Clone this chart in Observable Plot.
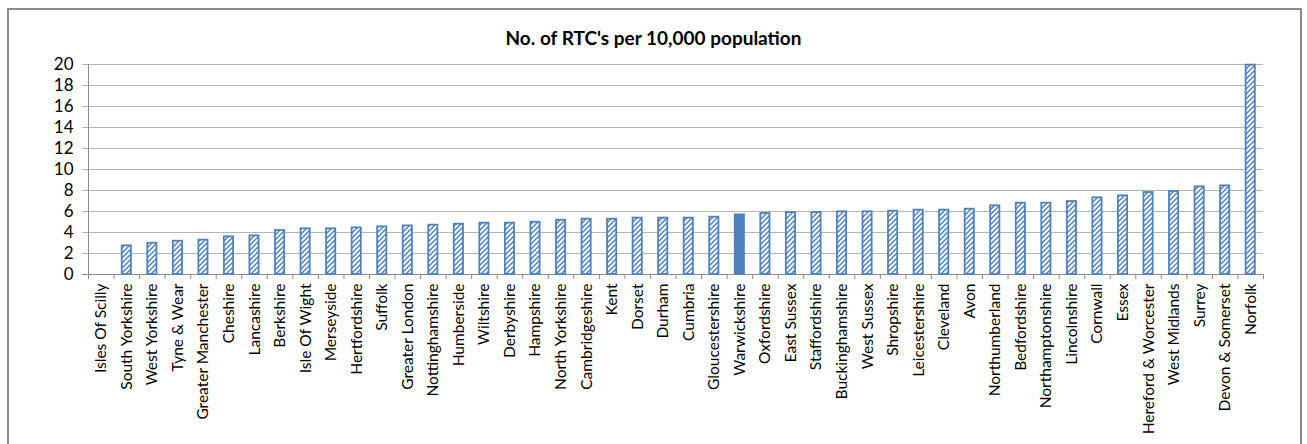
<!DOCTYPE html>
<html>
<head>
<meta charset="utf-8">
<script src="https://cdn.jsdelivr.net/npm/d3@7"></script>
<script src="https://cdn.jsdelivr.net/npm/@observablehq/plot@0.6"></script>
<style>
  html, body { margin: 0; padding: 0; background: #fff; }
  body { width: 1307px; height: 444px; position: relative; overflow: hidden; font-family: Lato, "Open Sans", sans-serif; }
  #frame { position: absolute; left: 7px; top: 8px; width: 1295px; height: 460px; border: 2px solid #8a8a8a; box-sizing: border-box; }
  #title { position: absolute; left: 0; top: 27px; width: 1307px; text-align: center; font-weight: bold; font-size: 19px; line-height: 22px; color: #000; }
  #chart { position: absolute; left: 0; top: 50px; }
</style>
</head>
<body>
<div id="frame"></div>
<div id="title">No. of RTC's per 10,000 population</div>
<div id="chart"></div>
<script>
// Road traffic collisions per 10,000 population, by county (ascending)
const counties = [
  "Isles Of Scilly", "South Yorkshire", "West Yorkshire", "Tyne & Wear", "Greater Manchester",
  "Cheshire", "Lancashire", "Berkshire", "Isle Of Wight", "Merseyside",
  "Hertfordshire", "Suffolk", "Greater London", "Nottinghamshire", "Humberside",
  "Wiltshire", "Derbyshire", "Hampshire", "North Yorkshire", "Cambridgeshire",
  "Kent", "Dorset", "Durham", "Cumbria", "Gloucestershire",
  "Warwickshire", "Oxfordshire", "East Sussex", "Staffordshire", "Buckinghamshire",
  "West Sussex", "Shropshire", "Leicestershire", "Cleveland", "Avon",
  "Northumberland", "Bedfordshire", "Northamptonshire", "Lincolnshire", "Cornwall",
  "Essex", "Hereford & Worcester", "West Midlands", "Surrey", "Devon & Somerset",
  "Norfolk"
];
const rtcPer10k = [
  0, 2.73, 2.98, 3.17, 3.27,
  3.59, 3.68, 4.19, 4.35, 4.35,
  4.44, 4.54, 4.63, 4.70, 4.79,
  4.89, 4.89, 4.98, 5.17, 5.27,
  5.27, 5.37, 5.37, 5.37, 5.46,
  5.68, 5.81, 5.90, 5.90, 5.97,
  5.97, 6.03, 6.13, 6.13, 6.22,
  6.54, 6.79, 6.79, 6.95, 7.30,
  7.49, 7.81, 7.90, 8.35, 8.44,
  19.94
];
const highlighted = "Warwickshire";
const yTicks = [0, 2, 4, 6, 8, 10, 12, 14, 16, 18, 20];

const blue = "#4F81BD";
const rows = counties.map((name, i) => ({name, i, value: rtcPer10k[i]}));
const boundaries = d3.range(0, counties.length + 1);
const centers = rows.map(d => d.i + 0.5);

const chart = Plot.plot({
  width: 1307,
  height: 394,
  marginTop: 14,
  marginBottom: 170,
  marginLeft: 88,
  marginRight: 44,
  style: {fontFamily: "Lato, 'Open Sans', sans-serif", background: "transparent", overflow: "visible", color: "#000"},
  x: {type: "linear", domain: [0, counties.length], axis: null},
  y: {domain: [0, 20], axis: null},
  marks: [
    Plot.gridY(yTicks.slice(1), {stroke: "#b4b4b4", strokeOpacity: 1, insetLeft: -6}),
    Plot.axisY(yTicks, {tickSize: 0, tickPadding: 15, fontSize: 17, fill: "#000", label: null}),
    Plot.ruleX([0], {stroke: "#8c8c8c", strokeWidth: 1}),
    Plot.ruleY([0], {stroke: "#8c8c8c", strokeWidth: 1, insetLeft: -6}),
    Plot.axisX(boundaries, {tickSize: 5, tickFormat: () => "", stroke: "#8c8c8c", label: null}),
    Plot.axisX(centers, {
      tickSize: 0, tickPadding: 9, tickRotate: -90, fontSize: 15.5, fill: "#000", label: null,
      tickFormat: v => counties[Math.floor(v)]
    }),
    Plot.rectY(rows, {
      filter: d => d.value > 0 && d.name !== highlighted,
      x1: d => d.i + 0.32, x2: d => d.i + 0.68, y1: 0, y2: "value",
      fill: "url(#hatch)", stroke: blue, strokeWidth: 1.8
    }),
    Plot.rectY(rows, {
      filter: d => d.name === highlighted,
      x1: d => d.i + 0.32, x2: d => d.i + 0.68, y1: 0, y2: "value",
      fill: blue, stroke: blue, strokeWidth: 1.8
    })
  ]
});

// Diagonal hatch fill used by the ordinary bars
const defs = d3.select(chart).insert("defs", ":first-child");
const pat = defs.append("pattern")
  .attr("id", "hatch")
  .attr("patternUnits", "userSpaceOnUse")
  .attr("width", 5)
  .attr("height", 5);
pat.append("rect").attr("width", 5).attr("height", 5).attr("fill", "#fff");
pat.append("path")
  .attr("d", "M-1,1 l2,-2 M0,5 l5,-5 M4,6 l2,-2")
  .attr("stroke", blue)
  .attr("stroke-width", 1.5);

document.getElementById("chart").appendChild(chart);
</script>
</body>
</html>
